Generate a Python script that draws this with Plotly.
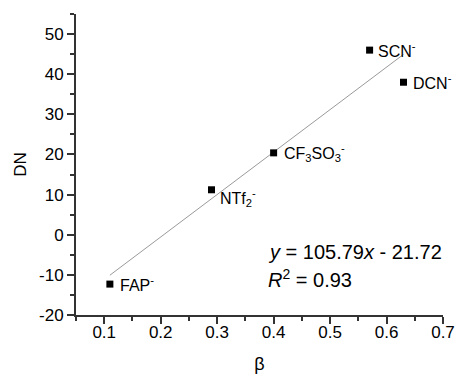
import plotly.graph_objects as go

# Data
labels = ["FAP<sup>-</sup>", "NTf<sub>2</sub><sup>-</sup>", "CF<sub>3</sub>SO<sub>3</sub><sup>-</sup>", "SCN<sup>-</sup>", "DCN<sup>-</sup>"]
beta = [0.11, 0.29, 0.40, 0.57, 0.63]
dn = [-12.3, 11.2, 20.4, 46.0, 38.0]
slope = 105.79
intercept = -21.72
fit_x = [0.11, 0.63]
fit_y = [slope * v + intercept for v in fit_x]

x_ticks = [0.1, 0.2, 0.3, 0.4, 0.5, 0.6, 0.7]
x_ticktext = ["0.1", "0.2", "0.3", "0.4", "0.5", "0.6", "0.7"]
y_ticks = [-20, -10, 0, 10, 20, 30, 40, 50]
y_ticktext = ["-20", "-10", "0", "10", "20", "30", "40", "50"]

# label offsets (pixels) for each point
label_dx = [8, 6, 8, 6, 8]
label_dy = [0, -8, 0, 0, 0]

FONT = "Liberation Sans, Arial"

fig = go.Figure()
fig.add_trace(go.Scatter(x=fit_x, y=fit_y, mode="lines",
                         line=dict(color="#9a9a9a", width=1), showlegend=False))
fig.add_trace(go.Scatter(x=beta, y=dn, mode="markers",
                         marker=dict(symbol="square", size=7, color="black"),
                         showlegend=False))

for lab, xv, yv, dx, dy in zip(labels, beta, dn, label_dx, label_dy):
    fig.add_annotation(x=xv, y=yv, text=lab, showarrow=False, xanchor="left",
                       yanchor="middle", xshift=dx, yshift=dy,
                       font=dict(family=FONT, size=16, color="black"))

fig.add_annotation(x=0.387, y=-4.3, text="<i>y</i> = 105.79<i>x</i> - 21.72", showarrow=False,
                   xanchor="left", yanchor="middle",
                   font=dict(family=FONT, size=20, color="black"))
fig.add_annotation(x=0.387, y=-11.0, text="<i>R</i><sup>2</sup> = 0.93", showarrow=False,
                   xanchor="left", yanchor="middle",
                   font=dict(family=FONT, size=20, color="black"))

axis_font = dict(family=FONT, size=17, color="black")
fig.update_xaxes(range=[0.05, 0.7], tickvals=x_ticks, ticktext=x_ticktext,
                 ticks="outside", ticklen=7, tickwidth=1.5, tickcolor="#333",
                 minor=dict(ticks="outside", ticklen=4, dtick=0.05, tick0=0.05, tickcolor="#333", tickwidth=1.5),
                 showline=True, linecolor="#333", linewidth=2, showgrid=False, zeroline=False,
                 tickfont=axis_font, automargin=False, ticklabelstandoff=-6,
                 title=dict(text="β", font=dict(family=FONT, size=18, color="black"), standoff=26))
fig.update_yaxes(range=[-20, 55], tickvals=y_ticks, ticktext=y_ticktext,
                 ticks="outside", ticklen=7, tickwidth=1.5, tickcolor="#333",
                 minor=dict(ticks="outside", ticklen=4, dtick=5, tick0=0, tickcolor="#333", tickwidth=1.5),
                 showline=True, linecolor="#333", linewidth=2, showgrid=False, zeroline=False,
                 tickfont=axis_font, automargin=False,
                 title=dict(text="DN", font=dict(family=FONT, size=17, color="black"), standoff=8))

fig.update_layout(width=456, height=374, margin=dict(l=76, r=13, t=14, b=59),
                  plot_bgcolor="white", paper_bgcolor="white")
fig.write_html("out.html")
